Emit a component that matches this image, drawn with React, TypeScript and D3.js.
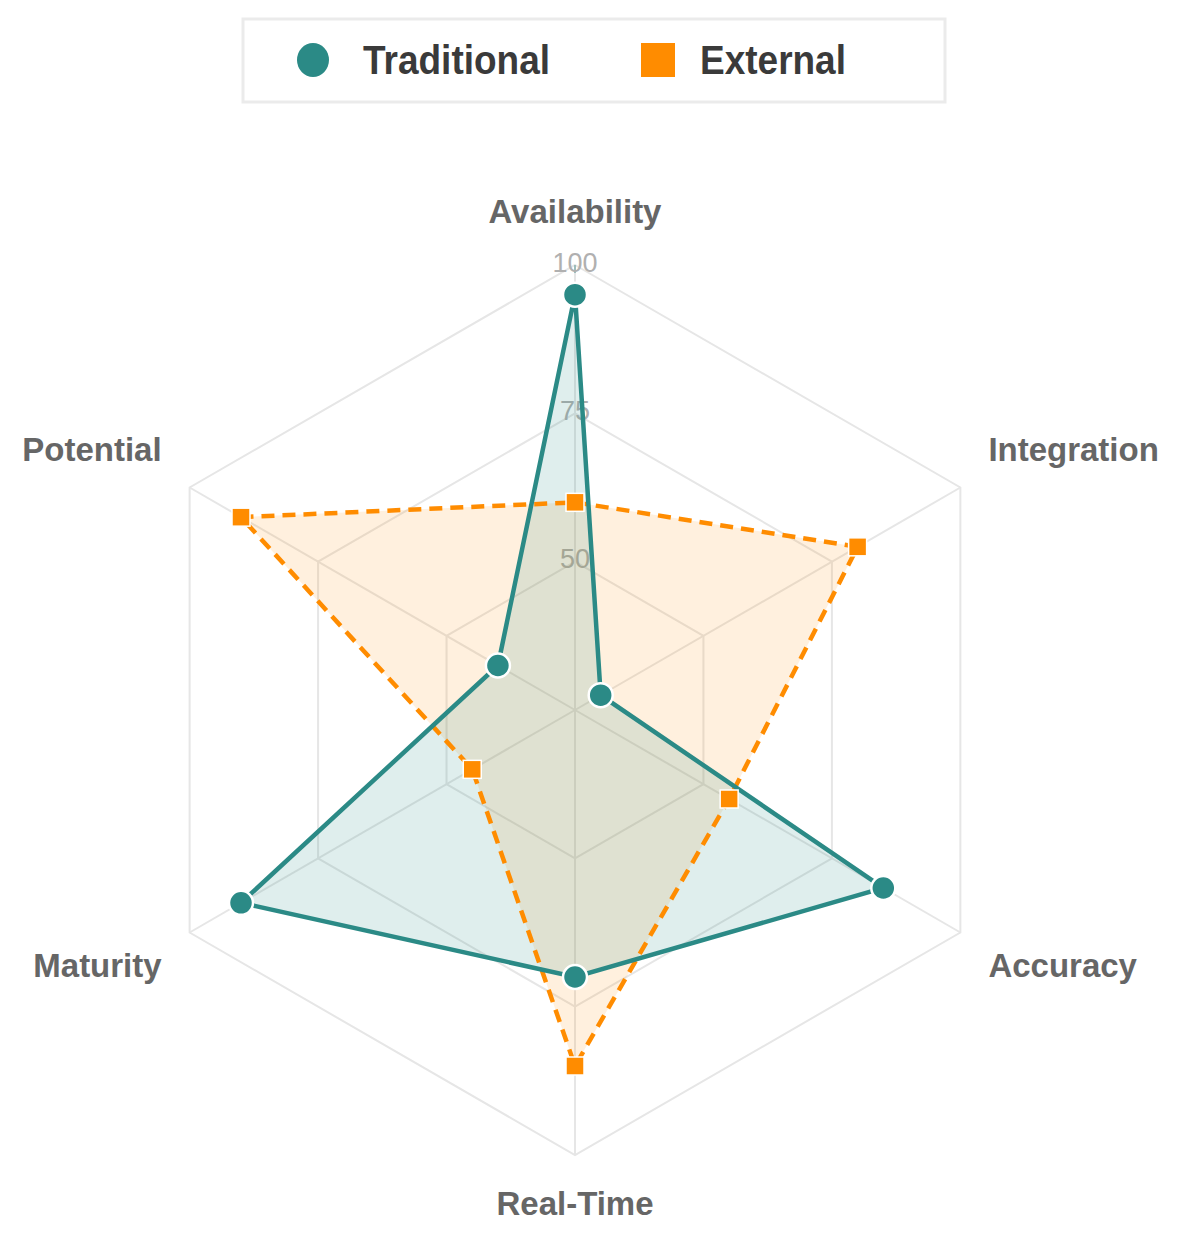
import React from "react";
import * as d3 from "d3";

const categories = ["Availability", "Integration", "Accuracy", "Real-Time", "Maturity", "Potential"];
const traditionalValues = [95, 30, 85, 70, 90, 40];
const externalValues = [60, 80, 55, 85, 45, 90];
const radialTicks = [50, 75, 100];
const seriesNames = ["Traditional", "External"];

const W = 1179;
const H = 1246;
const CX = 575;
const CY = 710;
const R = 445;
const TEAL = "#2b8a86";
const ORANGE = "#ff8c00";

export default function App() {
  const r = d3.scaleLinear().domain([25, 100]).range([0, R]);
  const angle = d3
    .scalePoint<string>()
    .domain(categories)
    .range([0, (2 * Math.PI * (categories.length - 1)) / categories.length]);

  const pt = (cat: string, v: number): [number, number] => {
    const a = angle(cat) as number;
    return [CX + r(v) * Math.sin(a), CY - r(v) * Math.cos(a)];
  };

  const radial = d3
    .lineRadial<number>()
    .angle((_, i) => angle(categories[i]) as number)
    .radius((d) => r(d))
    .curve(d3.curveLinearClosed);

  const ringValues = [50, 75, 100];

  const font = "'Liberation Sans', Arial, sans-serif";

  const labelPos = (cat: string) => {
    const [x, y] = pt(cat, 100);
    const a = angle(cat) as number;
    const s = Math.sin(a);
    const c = Math.cos(a);
    if (Math.abs(s) < 0.01) {
      return { x, y: c > 0 ? y - 54 : y + 48, anchor: "middle" };
    }
    return {
      x: s > 0 ? x + 28 : x - 28,
      y: c > 0 ? y - 39 : y + 32,
      anchor: s > 0 ? "start" : "end",
    };
  };

  return (
    <svg
      width={W}
      height={H}
      style={{ position: "absolute", left: 0, top: 0, background: "#fff" }}
      fontFamily={font}
    >
      {/* legend */}
      <rect x={243} y={19} width={702} height={83} fill="#fff" stroke="#ebebeb" strokeWidth={3} />
      <ellipse cx={313} cy={60} rx={16} ry={17} fill={TEAL} />
      <text x={363} y={60} dy="0.36em" fontSize={37} fontWeight="bold" fill="#3a3a3a" transform="translate(363,60) scale(1,1.08) translate(-363,-60)">
        {seriesNames[0]}
      </text>
      <rect x={641} y={43} width={34} height={34} fill={ORANGE} />
      <text x={700} y={60} dy="0.36em" fontSize={37} fontWeight="bold" fill="#3a3a3a" transform="translate(700,60) scale(1,1.08) translate(-700,-60)">
        {seriesNames[1]}
      </text>

      {/* grid */}
      <g transform={`translate(${CX},${CY})`}>
        {ringValues.map((v) => (
          <path
            key={v}
            d={radial(categories.map(() => v)) || ""}
            fill="none"
            stroke="#e6e6e6"
            strokeWidth={2}
          />
        ))}
      </g>
      {categories.map((c) => {
        const [x, y] = pt(c, 100);
        return <line key={c} x1={CX} y1={CY} x2={x} y2={y} stroke="#e6e6e6" strokeWidth={2} />;
      })}
      <line x1={CX} y1={CY - r(100)} x2={CX} y2={CY - r(100) + 8} stroke="#9dbcbb" strokeWidth={2} />

      {/* tick labels */}
      {radialTicks.map((t) => (
        <text
          key={t}
          x={CX}
          y={CY - r(t) + 4}
          textAnchor="middle"
          fontSize={27}
          fill="#b0b0b0"
          dy="0.1em"
        >
          {t}
        </text>
      ))}

      {/* series areas */}
      <g transform={`translate(${CX},${CY})`}>
        <path d={radial(externalValues) || ""} fill={ORANGE} fillOpacity={0.13} stroke="none" />
        <path d={radial(traditionalValues) || ""} fill={TEAL} fillOpacity={0.15} stroke="none" />
        <path
          d={radial(externalValues) || ""}
          fill="none"
          stroke={ORANGE}
          strokeWidth={4.5}
          strokeDasharray="13,8"
        />
        <path d={radial(traditionalValues) || ""} fill="none" stroke={TEAL} strokeWidth={4.5} />
      </g>

      {/* markers */}
      {externalValues.map((v, i) => {
        const [x, y] = pt(categories[i], v);
        return (
          <rect
            key={"e" + i}
            x={x - 9}
            y={y - 9}
            width={18}
            height={18}
            fill={ORANGE}
            stroke="#fff"
            strokeWidth={1.5}
          />
        );
      })}
      {traditionalValues.map((v, i) => {
        const [x, y] = pt(categories[i], v);
        return <circle key={"t" + i} cx={x} cy={y} r={12} fill={TEAL} stroke="#fff" strokeWidth={2.5} />;
      })}

      {/* axis labels */}
      {categories.map((c) => {
        const p = labelPos(c);
        return (
          <text
            key={c}
            x={p.x}
            y={p.y}
            dy="0.36em"
            textAnchor={p.anchor as any}
            fontSize={33}
            fontWeight="bold"
            fill="#666"
            transform={`translate(${p.x},${p.y}) scale(1,1.03) translate(${-p.x},${-p.y})`}
          >
            {c}
          </text>
        );
      })}
    </svg>
  );
}
